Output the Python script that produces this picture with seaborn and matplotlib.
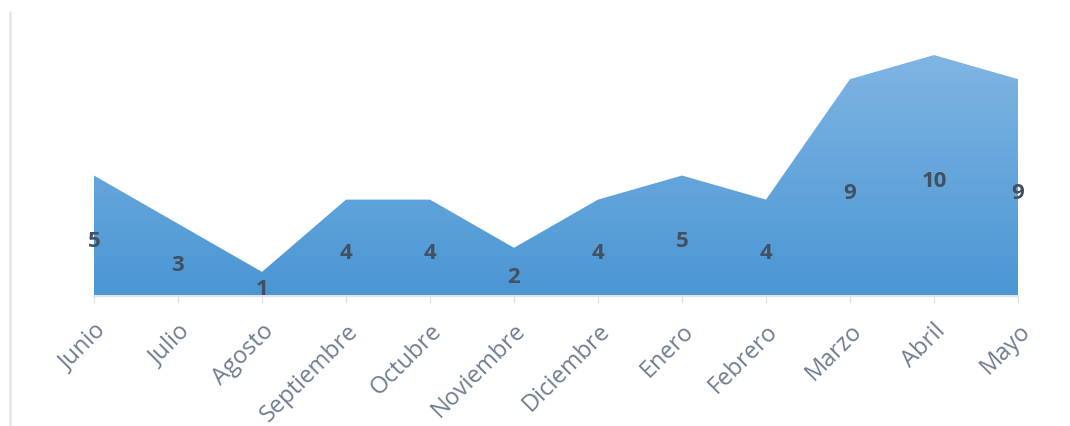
import seaborn as sns
import matplotlib.pyplot as plt
import matplotlib.lines as mlines
import pandas as pd
import numpy as np

# Data
meses = ['Junio', 'Julio', 'Agosto', 'Septiembre', 'Octubre', 'Noviembre',
         'Diciembre', 'Enero', 'Febrero', 'Marzo', 'Abril', 'Mayo']
valores = [5, 3, 1, 4, 4, 2, 4, 5, 4, 9, 10, 9]

df = pd.DataFrame({'Mes': meses, 'Valor': valores})
df['pos'] = np.arange(len(df))

sns.set_style("white")
plt.rcParams['font.family'] = ['Open Sans', 'DejaVu Sans']

fig = plt.figure(figsize=(10.7, 4.27), dpi=100)
ax = fig.add_axes([94 / 1070, 130 / 427, (1018 - 94) / 1070, 253 / 427])

sns.lineplot(data=df, x='pos', y='Valor', ax=ax, linewidth=0, color='#5b9bd5')
area = ax.fill_between(df['pos'], df['Valor'], 0, color='none', linewidth=0)

# vertical gradient clipped to the area
grad = np.linspace(0, 1, 256).reshape(-1, 1)
cmap = sns.blend_palette(['#4a96d3', '#7fb5e3'], as_cmap=True)
img = ax.imshow(grad, cmap=cmap, aspect='auto', origin='lower',
                extent=[0, 11, 0, 10], zorder=1)
img.set_clip_path(area.get_paths()[0], transform=ax.transData)

for x, v in zip(df['pos'], df['Valor']):
    ax.text(x, v / 2 - 0.2, str(v), ha='center', va='center', fontsize=16,
            fontweight='bold', color='#44505f', zorder=3)

ax.set_xlim(0, 11)
ax.set_ylim(0, 10.5)
ax.set_xticks(df['pos'])
ax.set_xticklabels(meses, rotation=45, ha='right', rotation_mode='anchor',
                   fontsize=17, color='#6e7d90')
ax.set_yticks([])
ax.set_xlabel('')
ax.set_ylabel('')
ax.tick_params(axis='x', length=5, width=1, color='#dde3ea', pad=11, bottom=True)
sns.despine(ax=ax, left=True, top=True, right=True)
ax.spines['bottom'].set_color('#dde3ea')
ax.spines['bottom'].set_linewidth(1.5)

# light chart border on the left
fig.add_artist(mlines.Line2D([10 / 1070, 10 / 1070], [0, 1 - 13 / 427],
                             color='#e6eaef', linewidth=2))

fig.savefig('out.png', dpi=100)
